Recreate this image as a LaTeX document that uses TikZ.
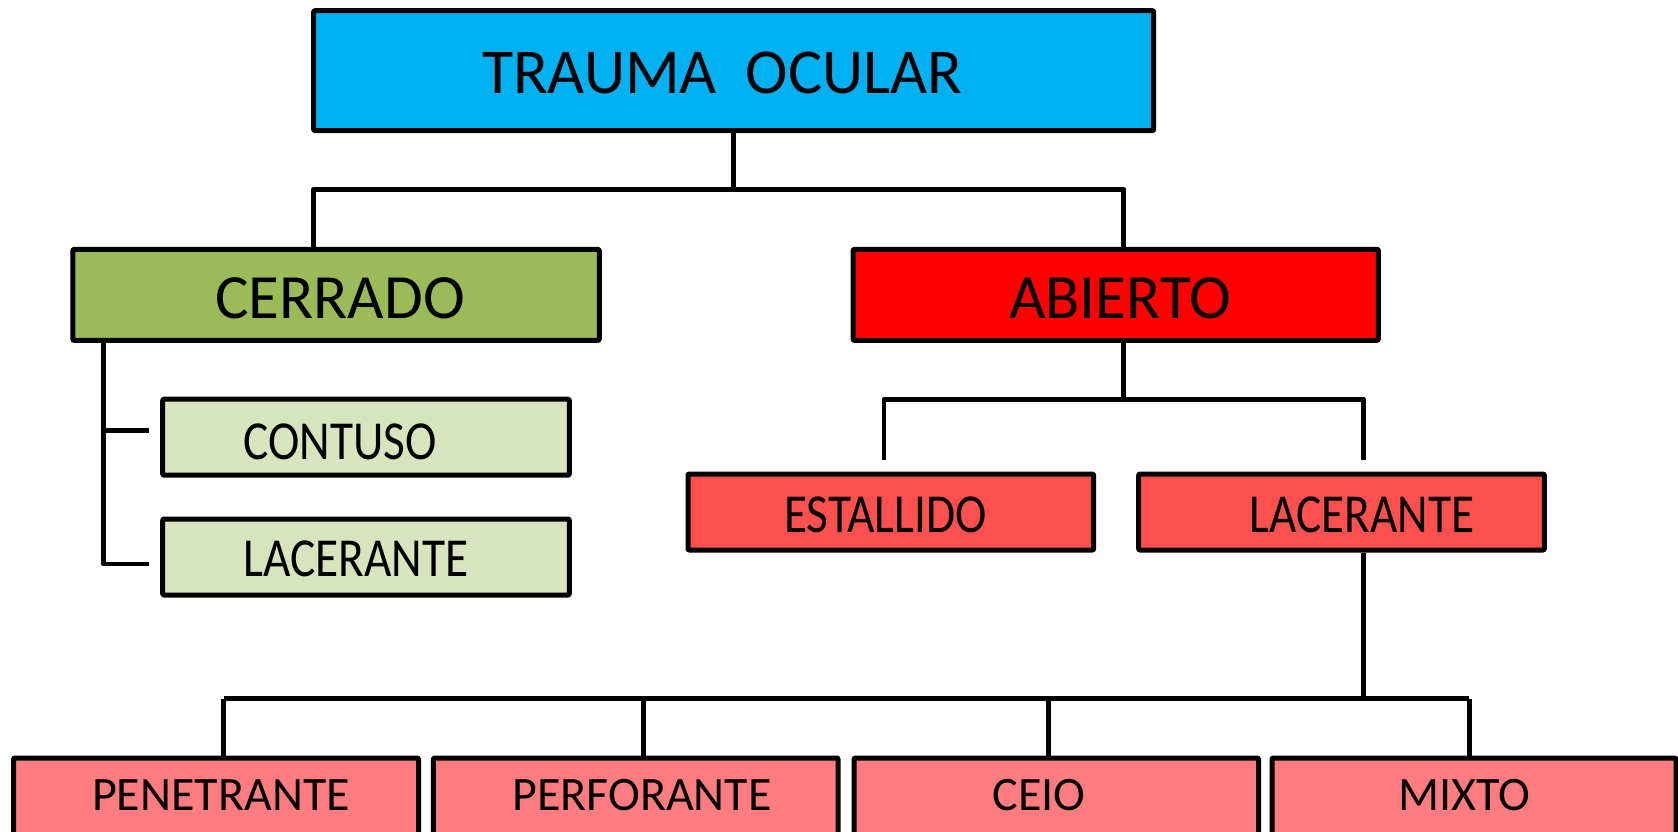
\documentclass[tikz,border=0pt]{standalone}
\usepackage{fontspec}
\setmainfont{Carlito}
\newfontfamily\lblfont[FakeStretch=0.86]{Carlito}
\definecolor{cTrauma}{HTML}{00B0F0}
\definecolor{cCerr}{HTML}{9BBB59}
\definecolor{cAbi}{HTML}{FF0000}
\definecolor{cLight}{HTML}{D7E4BD}
\definecolor{cMid}{HTML}{FF5050}
\definecolor{cLow}{HTML}{FF7C80}
\begin{document}
\begin{tikzpicture}[x=1pt,y=-1pt,line join=round,
  box/.style={draw=black,line width=5pt,inner sep=0pt,rounded corners=1pt},
  conn/.style={draw=black,line width=4.8pt},
  bigtxt/.style={anchor=base,inner sep=0pt,font=\fontsize{64}{70}\selectfont},
  midtxt/.style={anchor=base,inner sep=0pt,font=\fontsize{63}{68}\selectfont},
  smtxt/.style={anchor=base,inner sep=0pt,font=\lblfont\fontsize{55}{60}\selectfont},
  lowtxt/.style={anchor=base,inner sep=0pt,font=\fontsize{48}{54}\selectfont}]
\useasboundingbox (0,0) rectangle (1678,832);
\clip (0,0) rectangle (1678,832);
\fill[white] (0,0) rectangle (1678,832);

% boxes
\node[box,fill=cTrauma,minimum width=840.1pt,minimum height=119.9pt] (trauma) at (733.65,70.65) {};
\node[box,fill=cCerr,minimum width=526.5pt,minimum height=90.9pt] (cerrado) at (336.05,294.85) {};
\node[box,fill=cAbi,minimum width=525.4pt,minimum height=90.9pt] (abierto) at (1115.7,294.85) {};
\node[box,fill=cLight,minimum width=406.6pt,minimum height=76pt] (contuso) at (366,437.2) {};
\node[box,fill=cLight,minimum width=406.6pt,minimum height=76pt] (lacL) at (366,557) {};
\node[box,fill=cMid,minimum width=405.7pt,minimum height=76pt] (estallido) at (890.85,512) {};
\node[box,fill=cMid,minimum width=405.6pt,minimum height=76pt] (lacR) at (1341.5,512) {};
\node[box,fill=cLow,minimum width=405pt,minimum height=122pt] (pen) at (216,819) {};
\node[box,fill=cLow,minimum width=404.6pt,minimum height=122pt] (perf) at (635.7,819) {};
\node[box,fill=cLow,minimum width=404.5pt,minimum height=122pt] (ceio) at (1056.25,819) {};
\node[box,fill=cLow,minimum width=404pt,minimum height=122pt] (mixto) at (1474,819) {};

% texts
\node[bigtxt] (ttrauma) at (722,94) {TRAUMA\ \ OCULAR};
\node[midtxt] (tcerrado) at (340,318) {CERRADO};
\node[midtxt] (tabierto) at (1120,318) {ABIERTO};
\node[smtxt] (tcontuso) at (340,459) {CONTUSO};
\node[smtxt] (tlacL) at (356,576) {LACERANTE};
\node[smtxt] (testallido) at (885.5,532) {ESTALLIDO};
\node[smtxt] (tlacR) at (1362,532) {LACERANTE};
\node[lowtxt] (tpen) at (221,810) {PENETRANTE};
\node[lowtxt] (tperf) at (642,810) {PERFORANTE};
\node[lowtxt] (tceio) at (1039,810) {CEIO};
\node[lowtxt] (tmixto) at (1464,810) {MIXTO};

% connector coordinates
\coordinate (hL) at (313.6,189.4);
\coordinate (hR) at (1123.7,189.4);
\coordinate (vL) at (103.8,564);
\coordinate (cL1) at (148.8,430.2);
\coordinate (cL2) at (148.8,564);
\coordinate (aJ) at (1123.7,399.2);
\coordinate (aL) at (884,460.2);
\coordinate (aR) at (1363.4,460.2);
\coordinate (bJ) at (1363.4,698.8);
\coordinate (d1) at (223.7,698.8);
\coordinate (d2) at (643.2,698.8);
\coordinate (d3) at (1048.8,698.8);
\coordinate (d4) at (1469.4,698.8);

% connectors
\draw[conn] (trauma.south) -- (trauma.south |- hL);
\draw[conn] (hL |- cerrado.north) -- (hL) -- (hR) -- (hR |- abierto.north);
\draw[conn] (vL |- cerrado.south) -- (vL) -- (cL2);
\draw[conn] (vL |- cL1) -- (cL1);
\draw[conn] (abierto.south -| aJ) -- (aJ);
\draw[conn] (aL) -- (aL |- aJ) -- (aR |- aJ) -- (aR);
\draw[conn] (lacR.south -| bJ) -- (bJ);
\draw[conn] (d1) -- (d4);
\draw[conn] (d1) -- (d1 |- pen.north);
\draw[conn] (d2) -- (d2 |- perf.north);
\draw[conn] (d3) -- (d3 |- ceio.north);
\draw[conn] (d4) -- (d4 |- mixto.north);
\end{tikzpicture}
\end{document}
